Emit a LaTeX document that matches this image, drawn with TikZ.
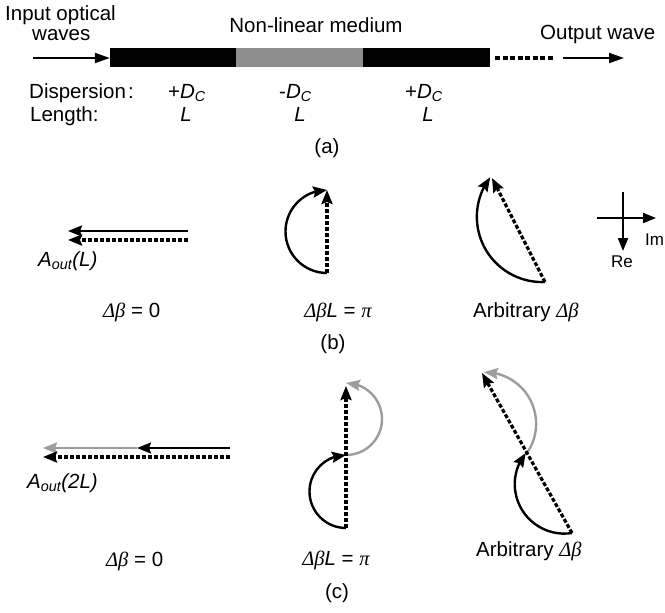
\documentclass[tikz,border=0pt]{standalone}
\usepackage{fontspec}
\setmainfont{Liberation Sans}
\newfontfamily\grkfont{Liberation Serif}
\usetikzlibrary{arrows.meta,bending}
\definecolor{bargray}{HTML}{8E8E8E}
\definecolor{arcgray}{HTML}{9C9C9C}
\newcommand{\dbeta}{{\grkfont\itshape Δβ}}
\newcommand{\mypi}{{\grkfont\itshape π}}
\begin{document}
\begin{tikzpicture}[x=1pt,y=-1pt,
  every node/.style={inner sep=0pt, font=\fontsize{20.5}{24}\selectfont},
  txt/.style={anchor=base},
  txtw/.style={anchor=base west},
  small/.style={font=\fontsize{17}{20}\selectfont},
  sol/.style={line width=2.4pt},
  dsh/.style={line width=3.2pt, dash pattern=on 4pt off 2pt},
  thinarrow/.style={line width=2pt, -{Triangle[length=15pt,width=10pt]}},
  tip/.style={-{Stealth[length=14pt,width=11pt,inset=2pt]}},
  gtip/.style={-{Stealth[length=14pt,width=11pt,inset=2pt,fill=arcgray]}},
  seg/.style={minimum height=19pt, draw=none},
]
\useasboundingbox (0,0) rectangle (665,613);

% ---------- (a) ----------
\node[txtw] (inp1) at (5,20) {Input optical};
\node[txtw] (inp2) at (32,41) {waves};
\node[txt] (nlm) at (316,32) {Non-linear medium};
\node[txtw] (outw) at (540,39) {Output wave};

\node[seg, fill=black, minimum width=126pt] (s1) at (173,57.5) {};
\node[seg, fill=bargray, minimum width=127pt] (s2) at (299.5,57.5) {};
\node[seg, fill=black, minimum width=127pt] (s3) at (426.5,57.5) {};

\coordinate (ain) at (33,58);
\draw[thinarrow] (ain) -- (s1.west |- ain);
\coordinate (dotA) at (495,58);
\coordinate (dotB) at (554,58);
\draw[line width=3.5pt, dash pattern=on 5pt off 2.5pt] (dotA) -- (dotB);
\coordinate (aoA) at (563,58);
\coordinate (aoB) at (624,58);
\draw[thinarrow] (aoA) -- (aoB);

\node[txtw] (disp) at (29,98) {Dispersion\hspace{2pt}:};
\node[txtw] (len) at (30,121) {Length:};
\node[txtw] (d1) at (168,98) {+\textit{D}\textsubscript{\textit{C}}};
\node[txtw] (d2) at (279,98) {-\textit{D}\textsubscript{\textit{C}}};
\node[txtw] (d3) at (405,98) {+\textit{D}\textsubscript{\textit{C}}};
\node[txt] (l1) at (186,121) {\textit{L}};
\node[txt] (l2) at (300,121) {\textit{L}};
\node[txt] (l3) at (428,121) {\textit{L}};
\node[txt] (capa) at (327,153) {(a)};

% ---------- (b) ----------
\coordinate (bLs1) at (188,231);
\coordinate (bLe1) at (68,231);
\coordinate (bLs2) at (188,240);
\coordinate (bLe2) at (68,240);
\draw[sol,tip] (bLs1) -- (bLe1);
\draw[dsh,tip] (bLs2) -- (bLe2);
\node[txtw] (aoutL) at (38,266) {\textit{A\textsubscript{out}(L)}};
\node[txtw] (b1lab) at (103,317) {\dbeta\ = 0};

\coordinate (bMs) at (327,273);
\coordinate (bMe) at (327,190);
\draw[sol,tip] (bMs) arc[start angle=90,end angle=270,radius=41.5];
\draw[dsh,tip] (bMs) -- (bMe);
\node[txt] (b2lab) at (338,317) {\dbeta\textit{L} = \mypi};

\coordinate (bRs) at (545,282);
\coordinate (bRe) at (492,178);
\draw[sol,tip] (bRs) arc[start angle=87.5,end angle=217.2,radius=65.3];
\draw[dsh,tip] (bRs) -- (bRe);
\node[txtw] (b3lab) at (473,317) {Arbitrary \dbeta};

\coordinate (axL) at (597,218);
\coordinate (axR) at (656,218);
\coordinate (axT) at (623,192);
\coordinate (axB) at (623,251);
\draw[line width=2pt,-{Triangle[length=13pt,width=10pt]}] (axL) -- (axR);
\draw[line width=2pt,-{Triangle[length=13pt,width=10pt]}] (axT) -- (axB);
\node[txtw, small] (im) at (645,245) {Im};
\node[txt, small] (re) at (622,267) {Re};
\node[txt] (capb) at (333,349) {(b)};

% ---------- (c) ----------
\coordinate (cLs1) at (230,448);
\coordinate (cLm1) at (137,448);
\coordinate (cLe1) at (43,448);
\draw[sol,tip] (cLs1) -- (cLm1);
\draw[sol,draw=arcgray,gtip] (cLm1) -- (cLe1);
\coordinate (cLs2) at (230,457);
\coordinate (cLe2) at (43,457);
\draw[dsh,tip] (cLs2) -- (cLe2);
\node[txtw] (aout2L) at (27,488) {\textit{A\textsubscript{out}(2L)}};
\node[txtw] (c1lab) at (106,566) {\dbeta\ = 0};

\coordinate (cMs) at (346,528);
\coordinate (cMm) at (346,455);
\coordinate (cMe) at (346,386);
\draw[sol,tip] (cMs) arc[start angle=90,end angle=270,radius=36.5];
\draw[sol,draw=arcgray,gtip] (cMm) arc[start angle=90,end angle=-90,radius=36];
\draw[dsh,tip] (cMs) -- (cMe);
\node[txt] (c2lab) at (336,565) {\dbeta\textit{L} = \mypi};

\coordinate (cRs) at (572,533);
\coordinate (cRm) at (527,453);
\coordinate (cRe) at (482,373);
\draw[sol,tip] (cRs) arc[start angle=81,end angle=219,radius=49.5];
\draw[sol,draw=arcgray,gtip] (cRm) arc[start angle=34.6,end angle=-90.7,radius=51.6];
\draw[dsh,tip] (cRs) -- (cRe);
\node[txtw] (c3lab) at (476,556) {Arbitrary \dbeta};
\node[txt] (capc) at (337,598) {(c)};
\end{tikzpicture}
\end{document}
